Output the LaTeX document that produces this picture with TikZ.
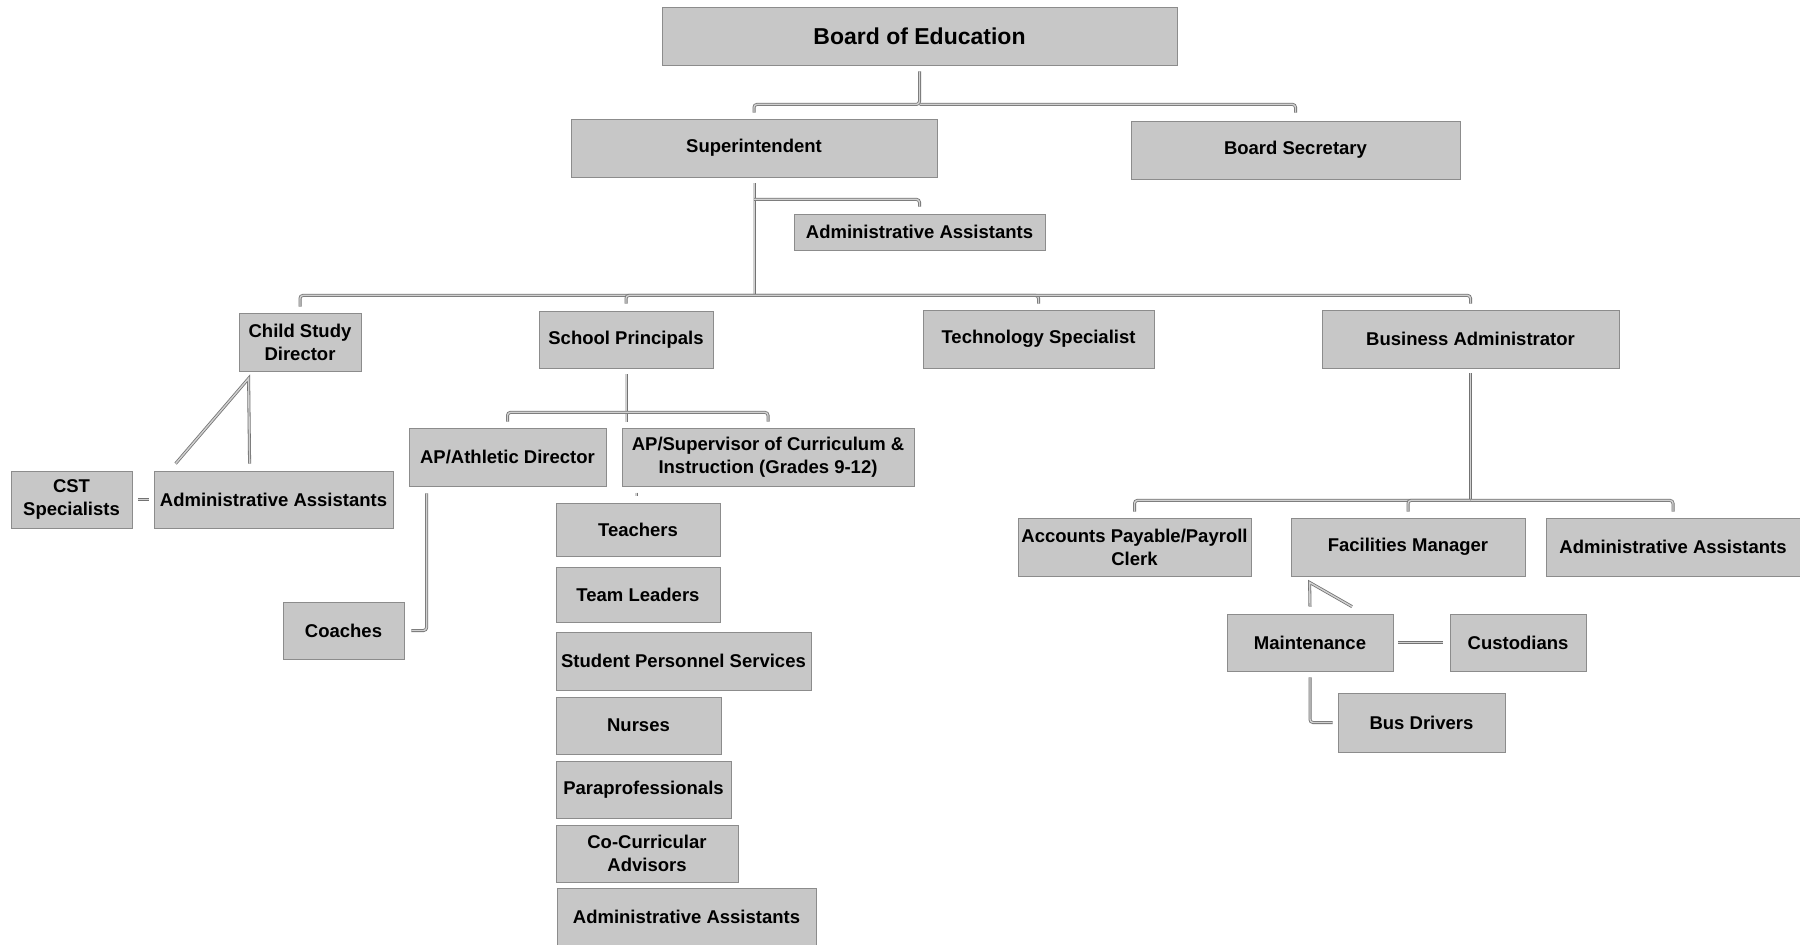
\documentclass[tikz,border=0pt]{standalone}
\usepackage{fontspec}
\setmainfont{Liberation Sans}
\usetikzlibrary{calc}
\tikzset{
  box/.style={draw=black!45, fill=black!22, line width=0.8pt, inner sep=0pt,
    align=center, text=black, font=\fontsize{18.5pt}{23pt}\selectfont\bfseries},
  conn/.style={draw=black!55, double=black!18, double distance=1.4pt,
    line width=0.8pt, rounded corners=3pt},
}
\newcommand\bx[6]{\node[box, minimum width=#4pt, minimum height=#5pt] (#1) at (#2,#3) {#6};}
\begin{document}
\begin{tikzpicture}[x=1pt, y=-1pt]
\useasboundingbox[fill=white] (0,0) rectangle (1800,945);
% boxes
\node[box, minimum width=515pt, minimum height=58pt, font=\fontsize{23pt}{27pt}\selectfont\bfseries] (boe) at (919.5,36) {Board of Education};
\bx{sup}{754}{148}{366}{58}{Superintendent}
\bx{bsec}{1295.5}{150}{329}{58}{Board Secretary}
\bx{aa1}{919.5}{232}{251}{36}{Administrative Assistants}
\bx{csd}{300}{342}{122}{58}{Child Study\\Director}
\bx{sp}{626}{339.5}{174}{57}{School Principals}
\bx{tech}{1038.5}{339}{231}{58}{Technology Specialist}
\bx{ba}{1470.5}{339}{297}{58}{Business Administrator}
\bx{cst}{71.5}{499.5}{121}{57}{CST\\Specialists}
\bx{aa2}{273.5}{499.5}{239}{57}{Administrative Assistants}
\bx{apad}{507.5}{457}{197}{58}{AP/Athletic Director}
\bx{apsup}{768}{457}{292}{58}{AP/Supervisor of Curriculum \&\\Instruction (Grades 9-12)}
\bx{coach}{343.5}{630.5}{121}{57}{Coaches}
\bx{teach}{638}{529.5}{164}{53}{Teachers}
\bx{team}{638}{594.5}{164}{55}{Team Leaders}
\bx{sps}{683.5}{661}{255}{58}{Student Personnel Services}
\bx{nurse}{638.5}{725.5}{165}{57}{Nurses}
\bx{para}{643.5}{789.5}{175}{57}{Paraprofessionals}
\bx{cocur}{647}{853.5}{182}{57}{Co-Curricular\\Advisors}
\bx{aa3}{686.5}{916.5}{259}{57}{Administrative Assistants}
\bx{apc}{1134.5}{547}{233}{58}{Accounts Payable/Payroll\\Clerk}
\bx{fm}{1408}{547}{234}{58}{Facilities Manager}
\bx{aa4}{1673}{547}{254}{58}{Administrative Assistants}
\bx{maint}{1310}{642.5}{166}{57}{Maintenance}
\bx{cust}{1518}{642.5}{136}{57}{Custodians}
\bx{bus}{1421.5}{722.5}{167}{59}{Bus Drivers}
% connectors: board level
\coordinate (hboe) at ($(boe.south)+(0,39)$);
\draw[conn] ($(boe.south)+(0,6)$) -- (hboe) -| ($(sup.north)+(0,-6)$);
\draw[conn] (hboe) -| ($(bsec.north)+(0,-8)$);
% superintendent
\coordinate (hsup) at ($(sup.south)+(0,118)$);
\draw[conn] ($(sup.south)+(0,6)$) -- (hsup);
\draw[conn] ($(sup.south)+(0,22)$) -| ($(aa1.north)+(0,-7)$);
\draw[conn] (hsup) -| ($(csd.north)+(0,-6)$);
\draw[conn] (hsup) -| ($(sp.north)+(0,-7)$);
\draw[conn] (hsup) -| ($(tech.north)+(0,-6)$);
\draw[conn] (hsup) -| ($(ba.north)+(0,-6)$);
% child study director
\coordinate (csdapex) at ($(csd.south west)+(10,7)$);
\draw[conn, rounded corners=0pt] ($(aa2.north west)+(96,-7)$) -- (csdapex) -- ($(aa2.north west)+(22,-7)$);
\draw[conn] ($(cst.east)+(6,0)$) -- ($(aa2.west)+(-5,0)$);
% school principals
\coordinate (hsp) at ($(sp.south)+(0,44)$);
\draw[conn] ($(sp.south)+(0,6)$) -- ($(sp.south)+(0,54)$);
\draw[conn] (hsp) -| ($(apad.north)+(0,-6)$);
\draw[conn] (hsp) -| ($(apsup.north)+(0,-6)$);
\draw[conn] ($(apad.south west)+(18,7)$) |- ($(coach.east)+(7,0)$);
\draw[conn] ($(teach.north)+(-2,-10)$) -- ($(teach.north)+(-2,-7)$);
% business administrator
\coordinate (hba) at ($(ba.south)+(0,132)$);
\draw[conn] ($(ba.south)+(0,5)$) -- (hba);
\draw[conn] (hba) -| ($(apc.north)+(0,-6)$);
\draw[conn] (hba) -| ($(fm.north)+(0,-6)$);
\draw[conn] (hba) -| ($(aa4.north)+(0,-6)$);
% facilities
\coordinate (fmapex) at ($(fm.south west)+(19,6)$);
\draw[conn, rounded corners=0pt] ($(maint.north)+(0,-7)$) -- (fmapex) -- ($(maint.north)+(42,-7)$);
\draw[conn] ($(maint.east)+(5,0)$) -- ($(cust.west)+(-7,0)$);
\draw[conn] ($(maint.south)+(0,6)$) |- ($(bus.west)+(-5,0)$);
\end{tikzpicture}
\end{document}
